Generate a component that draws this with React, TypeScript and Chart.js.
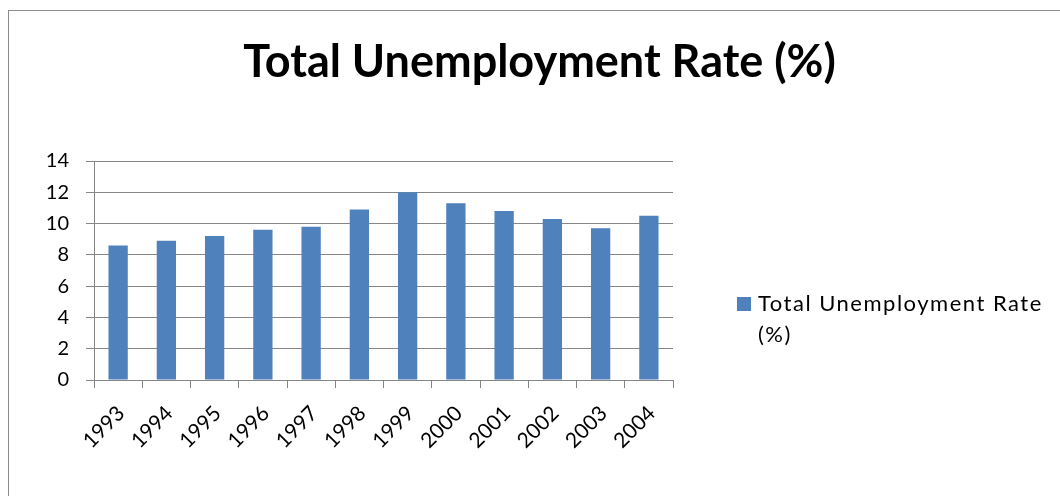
import React, { useEffect, useRef } from "react";
import { Chart, registerables } from "chart.js";

Chart.register(...registerables);

const TITLE = "Total Unemployment Rate (%)";
const SERIES_NAME = "Total Unemployment Rate (%)";
const LEGEND_LINES = ["Total Unemployment Rate", "(%)"];
const years = ["1993", "1994", "1995", "1996", "1997", "1998", "1999", "2000", "2001", "2002", "2003", "2004"];
const rates = [8.6, 8.9, 9.2, 9.6, 9.8, 10.9, 12.0, 11.3, 10.8, 10.3, 9.7, 10.5];
const yTicks = [0, 2, 4, 6, 8, 10, 12, 14];

const BAR_COLOR = "#4F81BD";
const GRID_COLOR = "#868686";
const FONT = "Lato, 'Open Sans', sans-serif";

const titleShiftPlugin = {
  id: "titleShift",
  afterLayout(chart: any) {
    const tb = chart.titleBlock;
    if (tb) {
      tb.left = 0;
      tb.right = chart.width + 10;
    }
  },
};

const legendPlugin = {
  id: "customLegend",
  afterDraw(chart: any) {
    const ctx = chart.ctx;
    const items = chart.options.plugins.legend.labels.generateLabels(chart);
    const item = items[0];
    ctx.save();
    ctx.fillStyle = item.fillStyle;
    ctx.fillRect(728, 286, 14, 14);
    ctx.fillStyle = "#000";
    ctx.font = `22px ${FONT}`;
    (ctx as any).letterSpacing = "1.5px";
    ctx.textAlign = "left";
    ctx.textBaseline = "alphabetic";
    LEGEND_LINES.forEach((line, i) => {
      ctx.fillText(line, 749, 300 + i * 31);
    });
    ctx.restore();
  },
};

export default function App() {
  const ref = useRef<HTMLCanvasElement | null>(null);

  useEffect(() => {
    document.body.style.overflow = "hidden";
    const canvas = ref.current;
    if (!canvas) return;
    const chart = new Chart(canvas, {
      type: "bar",
      data: {
        labels: years,
        datasets: [
          {
            label: SERIES_NAME,
            data: rates,
            backgroundColor: BAR_COLOR,
            borderWidth: 0,
            categoryPercentage: 1,
            barPercentage: 0.4,
          },
        ],
      },
      options: {
        responsive: false,
        animation: false,
        devicePixelRatio: 1,
        layout: { padding: { left: 0, right: 387, top: 0, bottom: 0 } },
        plugins: {
          legend: { display: false },
          tooltip: { enabled: false },
          title: {
            display: true,
            text: TITLE,
            color: "#000",
            font: { family: FONT, size: 45, weight: "bold", lineHeight: 1.2 },
            padding: { top: 24, bottom: 72 },
          },
        },
        scales: {
          x: {
            grid: {
              display: true,
              drawOnChartArea: false,
              drawTicks: true,
              tickLength: 8,
              color: GRID_COLOR,
              offset: true,
            },
            border: { display: true, color: GRID_COLOR, width: 1 },
            ticks: {
              color: "#000",
              font: { family: FONT, size: 21 },
              maxRotation: 45,
              minRotation: 45,
              autoSkip: false,
              padding: 13,
              labelOffset: 3,
            },
            afterFit(scale: any) {
              scale.height = 116;
            },
          },
          y: {
            min: 0,
            max: 14,
            afterBuildTicks(scale: any) {
              scale.ticks = yTicks.map((v) => ({ value: v }));
            },
            grid: {
              color: GRID_COLOR,
              lineWidth: 1,
              drawTicks: true,
              tickLength: 8,
            },
            border: { display: true, color: GRID_COLOR, width: 1 },
            ticks: {
              color: "#000",
              font: { family: FONT, size: 20 },
              padding: 17,
            },
            afterFit(scale: any) {
              scale.width = 85;
            },
          },
        },
      },
      plugins: [titleShiftPlugin, legendPlugin],
    });
    return () => chart.destroy();
  }, []);

  return (
    <div
      style={{
        position: "absolute",
        left: 8,
        top: 10,
        width: 1052,
        height: 486,
        borderTop: "1px solid #8c8c8c",
        borderLeft: "1px solid #8c8c8c",
        boxSizing: "border-box",
        background: "#fff",
      }}
    >
      <canvas ref={ref} width={1051} height={485} style={{ display: "block", width: 1051, height: 485 }} />
    </div>
  );
}
